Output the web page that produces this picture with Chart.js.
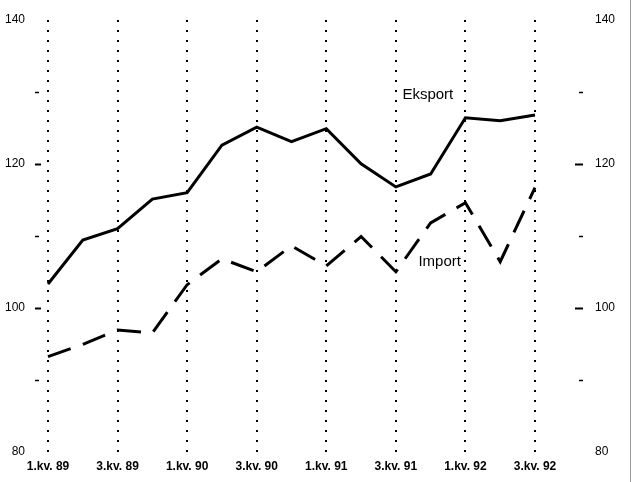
<!DOCTYPE html>
<html lang="no">
<head>
<meta charset="UTF-8">
<title>Eksport og import</title>
<script src="https://cdn.jsdelivr.net/npm/chart.js"></script>
<style>
  body { margin: 0; background: #fff; }
  #wrap { position: relative; width: 636px; height: 482px; }
  #edge { position: absolute; left: 630px; top: 0; width: 1px; height: 482px; background: #9a9a9a; pointer-events: none; }
</style>
</head>
<body>
<div id="wrap">
  <canvas id="myChart" width="636" height="482"></canvas>
  <div id="edge"></div>
</div>
<script>
  // quarters 1.kv. 89 .. 3.kv. 92
  var quarters = ['1.kv. 89', '2.kv. 89', '3.kv. 89', '4.kv. 89',
                  '1.kv. 90', '2.kv. 90', '3.kv. 90', '4.kv. 90',
                  '1.kv. 91', '2.kv. 91', '3.kv. 91', '4.kv. 91',
                  '1.kv. 92', '2.kv. 92', '3.kv. 92'];
  var eksport = [103.3, 109.4, 111.0, 115.1, 116.0, 122.6, 125.1, 123.1, 124.9, 120.0, 116.8, 118.6, 126.4, 126.0, 126.8];
  var importVals = [93.2, 94.9, 96.9, 96.5, 103.2, 106.8, 105.0, 108.6, 105.8, 109.9, 105.0, 111.8, 114.6, 106.4, 116.7];
  var yTicks = [80, 90, 100, 110, 120, 130, 140];
  var seriesNames = [
    { text: 'Eksport', x: 10.92, y: 129.6 },
    { text: 'Import', x: 11.26, y: 106.4 }
  ];

  var fontName = "'Liberation Sans Narrow', 'Liberation Sans', Arial, sans-serif";

  // small dash marks beside the value axes + series names
  var extras = {
    id: 'extras',
    afterDraw: function (chart) {
      var ctx = chart.ctx, y = chart.scales.y, x = chart.scales.x, a = chart.chartArea;
      ctx.save();
      ctx.strokeStyle = '#000';
      yTicks.forEach(function (v) {
        if (v === 80 || v === 140) return;
        var py = Math.round(y.getPixelForValue(v)) + 0.5;
        var major = v % 20 === 0;
        ctx.lineWidth = major ? 2 : 1.5;
        ctx.beginPath();
        ctx.moveTo(a.left - 13, py);
        ctx.lineTo(a.left - (major ? 7 : 9), py);
        ctx.moveTo(a.right + (major ? 40 : 44), py);
        ctx.lineTo(a.right + 48, py);
        ctx.stroke();
      });
      ctx.fillStyle = '#000';
      ctx.font = '15px ' + fontName;
      ctx.textAlign = 'center';
      ctx.textBaseline = 'middle';
      seriesNames.forEach(function (s) {
        ctx.fillText(s.text, x.getPixelForValue(s.x), y.getPixelForValue(s.y));
      });
      ctx.restore();
    }
  };

  var tickLabel = function (v) { return v % 20 === 0 ? v : ''; };
  // invisible tick marks, only used to push the labels away from the plot
  var hiddenGrid = function (len) {
    return { display: true, drawOnChartArea: false, drawTicks: true, tickLength: len, color: 'rgba(0,0,0,0)' };
  };

  var config = {
    type: 'line',
    data: {
      labels: quarters,
      datasets: [{
        label: 'Eksport',
        data: eksport,
        borderColor: '#000',
        borderWidth: 3,
        pointRadius: 0,
        tension: 0,
        fill: false,
        borderJoinStyle: 'miter'
      }, {
        label: 'Import',
        data: importVals,
        borderColor: '#000',
        borderWidth: 3,
        borderDash: [24, 13],
        pointRadius: 0,
        tension: 0,
        fill: false,
        borderJoinStyle: 'miter'
      }]
    },
    options: {
      responsive: false,
      animation: false,
      layout: { padding: { top: 20, bottom: 0, left: 0, right: 0 } },
      plugins: { legend: { display: false }, title: { display: false }, tooltip: { enabled: false } },
      scales: {
        x: {
          offset: false,
          grid: {
            color: function (c) { return c.index % 2 === 0 ? '#000' : 'rgba(0,0,0,0)'; },
            lineWidth: 2,
            drawTicks: false
          },
          border: { display: false, dash: [2, 8] },
          ticks: {
            autoSkip: false,
            maxRotation: 0,
            padding: 8,
            color: '#000',
            font: { family: fontName, size: 12, weight: 'bold' },
            callback: function (v, i) { return i % 2 === 0 ? this.getLabelForValue(v) : ''; }
          }
        },
        y: {
          position: 'left',
          min: 80, max: 140,
          grid: hiddenGrid(21),
          border: { display: false },
          afterFit: function (s) { s.width = 48; },
          ticks: { stepSize: 10, padding: 2, color: '#000', font: { family: fontName, size: 12 }, callback: tickLabel }
        },
        y2: {
          position: 'right',
          min: 80, max: 140,
          grid: hiddenGrid(58),
          border: { display: false },
          afterFit: function (s) { s.width = 101; },
          ticks: { stepSize: 10, padding: 2, color: '#000', font: { family: fontName, size: 12 }, callback: tickLabel }
        }
      }
    },
    plugins: [extras]
  };

  var ctx = document.getElementById('myChart').getContext('2d');
  var myChart = new Chart(ctx, config);
</script>
</body>
</html>
